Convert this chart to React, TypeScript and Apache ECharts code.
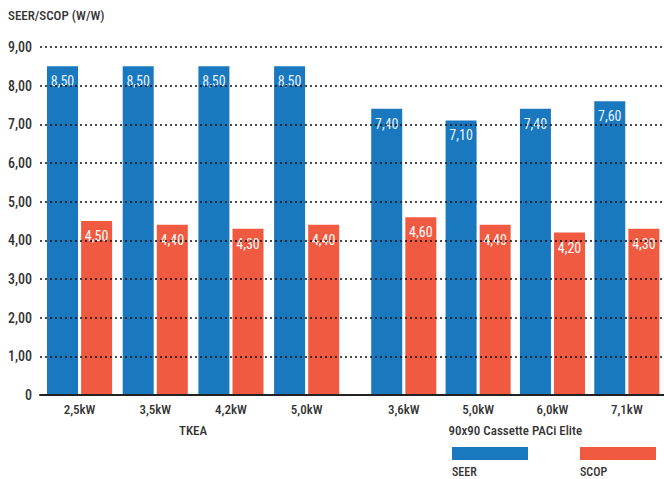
import React, { useEffect, useRef } from "react";
import * as echarts from "echarts";

const categoriesTKEA = ["2,5kW", "3,5kW", "4,2kW", "5,0kW"];
const categoriesCassette = ["3,6kW", "5,0kW", "6,0kW", "7,1kW"];
const seerTKEA = [8.5, 8.5, 8.5, 8.5];
const scopTKEA = [4.5, 4.4, 4.3, 4.4];
const seerCassette = [7.4, 7.1, 7.4, 7.6];
const scopCassette = [4.6, 4.4, 4.2, 4.3];
const groupNames = ["TKEA", "90x90 Cassette PACi Elite"];
const seriesNames = ["SEER", "SCOP"];
const yTitle = "SEER/SCOP (W/W)";

const FONT = "'Roboto Condensed', 'Liberation Sans Narrow', Roboto, sans-serif";
const BLUE = "#1a78bf";
const RED = "#f05a40";
const TXT = "#333333";

const fmt = (v: number) => (v === 0 ? "0" : v.toFixed(2).replace(".", ","));

export default function App() {
  const ref = useRef<HTMLDivElement>(null);
  useEffect(() => {
    if (!ref.current) return;
    const chart = echarts.init(ref.current, null, { renderer: "svg" });
    const top = 47;
    const bottom = 84;
    const catW = 75.7;
    const g1Left = 41.7;
    const g2Left = 366.6;
    const barLabel = (color: string) => ({
      show: true,
      position: "insideTop",
      distance: 8,
      color,
      fontFamily: FONT,
      fontSize: 14,
      fontWeight: "normal",
      formatter: (p: any) => fmt(p.value),
    });
    const mkBar = (name: string, data: number[], color: string, idx: number, lc: string) => ({
      type: "bar",
      name,
      data,
      xAxisIndex: idx,
      yAxisIndex: idx,
      barWidth: 31,
      barGap: "10%",
      itemStyle: { color },
      label: barLabel(lc),
      z: 2,
    });
    const catAxis = (idx: number, data: string[], name: string) => ({
      type: "category",
      gridIndex: idx,
      data,
      axisLine: { show: false },
      axisTick: { show: false },
      axisLabel: { color: TXT, fontFamily: FONT, fontSize: 13, fontWeight: 500, margin: 8 },
      name,
      nameLocation: "middle",
      nameGap: 29,
      nameTextStyle: { color: TXT, fontFamily: FONT, fontSize: 13, fontWeight: 500 },
    });
    const hiddenY = (idx: number) => ({
      type: "value",
      gridIndex: idx,
      min: 0,
      max: 9,
      interval: 1,
      show: false,
      splitLine: { show: false },
    });
    chart.setOption({
      animation: false,
      grid: [
        { left: 40, right: 0, top, bottom },
        { left: g1Left, width: catW * 4, top, bottom },
        { left: g2Left, width: catW * 4, top, bottom },
      ],
      xAxis: [
        {
          type: "value",
          gridIndex: 0,
          min: 0,
          max: 1,
          axisLabel: { show: false },
          axisTick: { show: false },
          splitLine: { show: false },
          axisLine: { show: true, lineStyle: { color: "#222", width: 2 } },
          z: 6,
        },
        catAxis(1, categoriesTKEA, groupNames[0]),
        catAxis(2, categoriesCassette, groupNames[1]),
      ],
      yAxis: [
        {
          type: "value",
          gridIndex: 0,
          min: 0,
          max: 9,
          interval: 1,
          axisLine: { show: false },
          axisTick: { show: false },
          axisLabel: {
            color: TXT,
            fontFamily: FONT,
            fontSize: 14,
            fontWeight: 500,
            margin: 8,
            formatter: (v: number) => fmt(v),
          },
          splitLine: {
            show: true,
            lineStyle: { color: "#111", type: [2, 3], width: 1.5 },
          },
          z: 5,
        },
        hiddenY(1),
        hiddenY(2),
      ],
      graphic: [
        {
          type: "text",
          x: 8,
          y: 9,
          style: { text: yTitle, fill: TXT, font: `500 13px ${FONT}`, verticalAlign: "top" },
        },
        { type: "rect", shape: { x: 452, y: 447, width: 76, height: 13 }, style: { fill: BLUE } },
        { type: "rect", shape: { x: 580, y: 447, width: 76, height: 13 }, style: { fill: RED } },
        {
          type: "text",
          x: 452,
          y: 466,
          style: { text: seriesNames[0], fill: TXT, font: `500 12px ${FONT}`, verticalAlign: "top" },
        },
        {
          type: "text",
          x: 580,
          y: 466,
          style: { text: seriesNames[1], fill: TXT, font: `500 12px ${FONT}`, verticalAlign: "top" },
        },
      ],
      series: [
        mkBar(seriesNames[0], seerTKEA, BLUE, 1, "#e6f2ff"),
        mkBar(seriesNames[1], scopTKEA, RED, 1, "#ffffff"),
        mkBar(seriesNames[0], seerCassette, BLUE, 2, "#e6f2ff"),
        mkBar(seriesNames[1], scopCassette, RED, 2, "#ffffff"),
      ],
    });
    return () => chart.dispose();
  }, []);
  return (
    <div
      ref={ref}
      style={{ position: "absolute", left: 0, top: 0, width: 664, height: 479, background: "#fff" }}
    />
  );
}
